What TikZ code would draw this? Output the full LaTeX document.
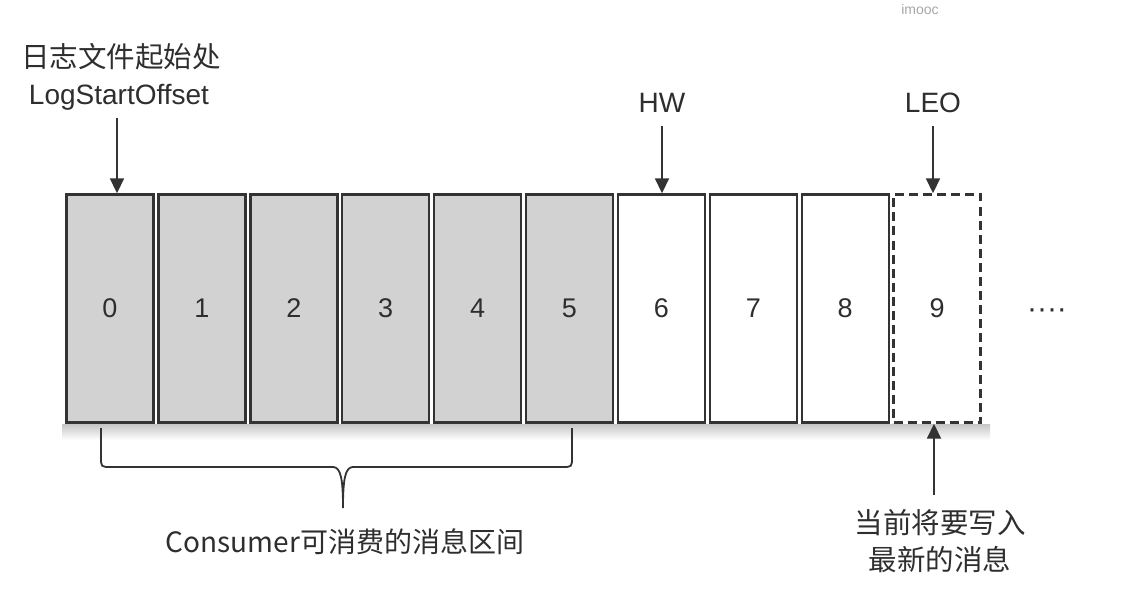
\documentclass[tikz,border=0pt]{standalone}
\usepackage{fontspec}
\setmainfont{Liberation Sans}
\newfontfamily\cjk{Noto Sans CJK SC}
\usetikzlibrary{arrows.meta}
\definecolor{linec}{HTML}{333333}
\definecolor{cellfill}{HTML}{D2D2D2}
\definecolor{txt}{HTML}{2E2E2E}
\begin{document}
\begin{tikzpicture}[x=1pt,y=-1pt,
  cell/.style={draw=linec, line width=2.4pt, minimum width=87pt, minimum height=228pt, inner sep=0pt, font=\fontsize{27}{30}\selectfont, text=txt},
  used/.style={cell, fill=cellfill},
  free/.style={cell, fill=white},
  pending/.style={cell, fill=white, dash pattern=on 9pt off 5pt},
  lbl/.style={text=txt, font=\fontsize{28}{32}\selectfont, inner sep=0pt},
  clbl/.style={text=txt, font=\fontsize{28.5}{37}\cjk, inner sep=0pt, align=center},
  arr/.style={draw=linec, line width=1.8pt, -{Triangle[length=15pt,width=14pt]}},
  brace/.style={draw=linec, line width=1.8pt},
]
\useasboundingbox (0,0) rectangle (1136,607);
% shadow under the row
\shade[top color=gray!45, bottom color=white] (62,424) rectangle (990,440);
% cells
\foreach \i in {0,...,5} \node[used] (b\i) at ({110+91.9*\i},308.5) {\i};
\foreach \i in {6,7,8} \node[free] (b\i) at ({110+91.9*\i},308.5) {\i};
\node[pending] (b9) at ({110+91.9*9},308.5) {9};
\node[lbl, font=\fontsize{30}{30}\selectfont] (more) at (1047,314) {····};
% top labels
\node[clbl] (lsocn) at (121,57) {日志文件起始处};
\node[lbl] (lso) at (119,97) {LogStartOffset};
\coordinate (lsoa) at (117,118);
\draw[arr] (lsoa) -- (lsoa |- b0.north);
\node[lbl] (hw) at (662,103) {HW};
\draw[arr, shorten <=13pt] (hw.south) -- (hw.south |- b6.north);
\node[lbl] (leo) at (933,103) {LEO};
\draw[arr, shorten <=13pt] (leo.south) -- (leo.south |- b9.north);
% bottom right
\node[clbl] (newmsg) at (940,541) {当前将要写入\\最新的消息};
\coordinate (na) at (934,495);
\draw[arr] (na) -- (na |- b9.south);
% brace
\draw[brace] (101,428) -- (101,457) .. controls (101,467) .. (111,467) -- (333,467)
  .. controls (341,467) and (343,480) .. (343,508)
  .. controls (343,480) and (345,467) .. (353,467) -- (562,467)
  .. controls (572,467) .. (572,457) -- (572,428);
\node[lbl, font=\fontsize{28}{32}\cjk] (cons) at (345,542) {Consumer可消费的消息区间};
% watermark
\node[text=gray!70, font=\fontsize{14}{16}\selectfont, inner sep=0pt] (wm) at (920,9) {imooc};
\end{tikzpicture}
\end{document}
